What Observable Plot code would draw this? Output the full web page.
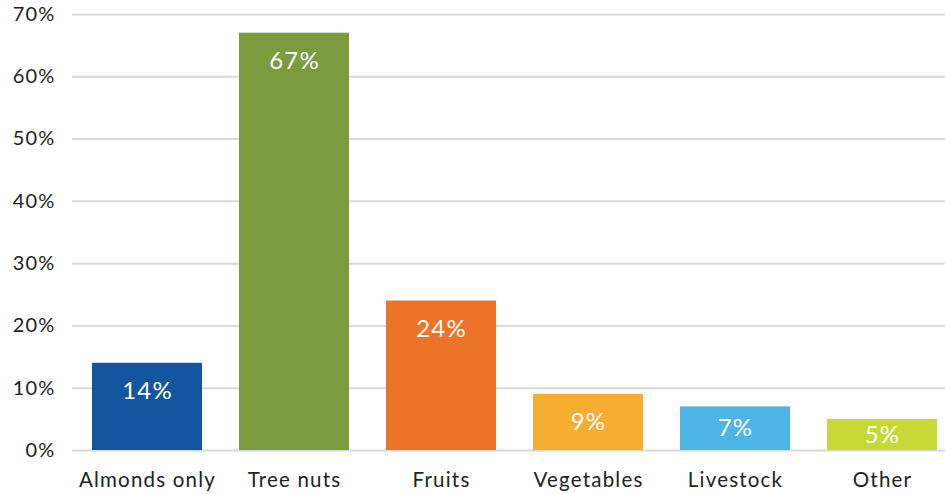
<!DOCTYPE html>
<html>
<head>
<meta charset="utf-8">
<script src="https://cdn.jsdelivr.net/npm/d3@7"></script>
<script src="https://cdn.jsdelivr.net/npm/@observablehq/plot@0.6"></script>
<style>
  html, body { margin: 0; padding: 0; background: #fff; }
  #chart svg { display: block; }
  #chart svg text { letter-spacing: 1.2px; font-weight: 400; }
</style>
</head>
<body>
<div id="chart"></div>
<script>
const categories = ["Almonds only", "Tree nuts", "Fruits", "Vegetables", "Livestock", "Other"];
const values = [14, 67, 24, 9, 7, 5];
const colors = ["#1455a0", "#7a9c3f", "#ec7428", "#f6ad31", "#4db5e6", "#c8d935"];
const yTicks = [0, 10, 20, 30, 40, 50, 60, 70];

const data = categories.map((c, i) => ({category: c, value: values[i]}));

const chart = Plot.plot({
  width: 945,
  height: 494,
  marginLeft: 72,
  marginRight: 0,
  marginTop: 14,
  marginBottom: 44,
  style: {fontFamily: "Lato, sans-serif", color: "#222", background: "#fff"},
  x: {domain: categories, paddingInner: 0.2547, paddingOuter: 0.0847, align: 0.72, label: null},
  y: {domain: [0, 70], label: null},
  color: {type: "ordinal", domain: categories, range: colors},
  marks: [
    Plot.ruleY(yTicks, {stroke: "#d9d9d9", strokeWidth: 2}),
    Plot.barY(data, {x: "category", y: "value", fill: "category"}),
    Plot.text(data, {
      x: "category",
      y: d => Math.max(d.value - 4.5, d.value / 2),
      text: d => d.value + "%",
      fill: "#fff",
      fontSize: 24,
      lineAnchor: "middle"
    }),
    Plot.axisY({ticks: yTicks, tickFormat: d => d + "%", tickSize: 0, tickPadding: 17, fontSize: 20, fill: "#222"}),
    Plot.axisX({tickSize: 0, tickPadding: 22, fontSize: 20.5, fill: "#222"})
  ]
});
document.getElementById("chart").appendChild(chart);
</script>
</body>
</html>
